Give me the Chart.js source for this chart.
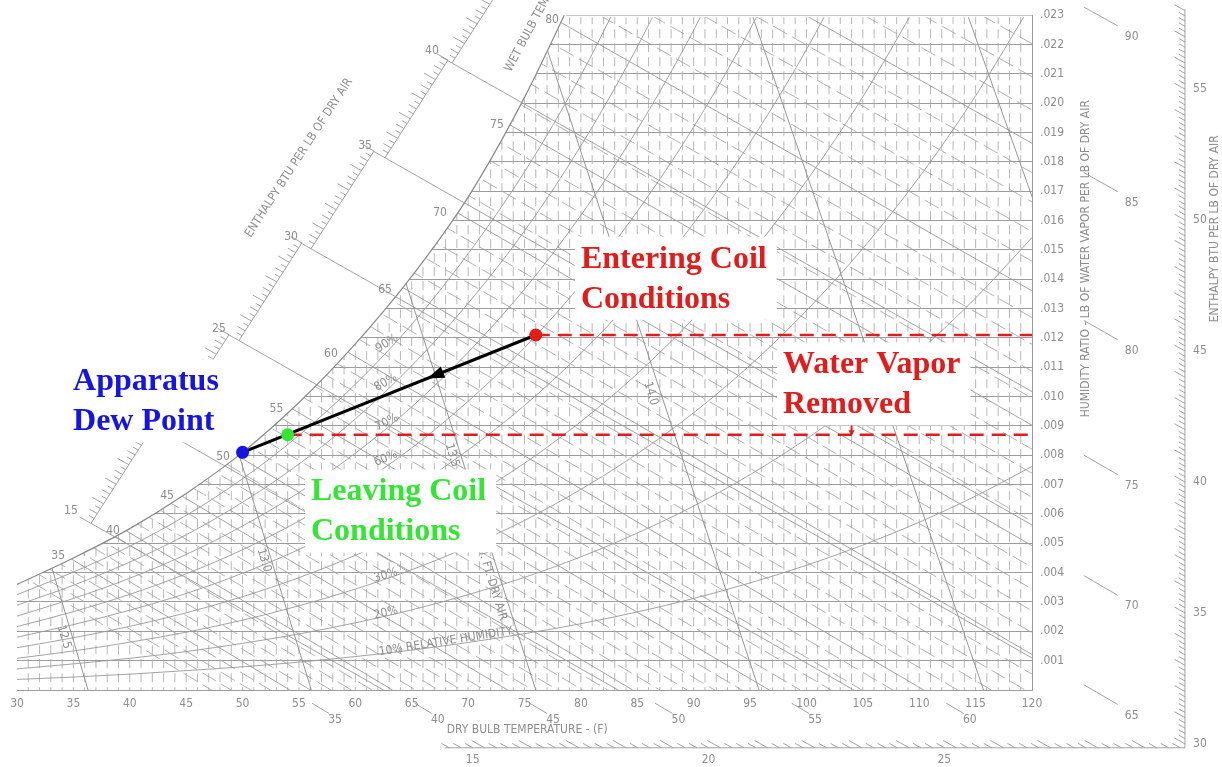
<!DOCTYPE html>
<html>
<head>
<meta charset="utf-8">
<script src="https://cdn.jsdelivr.net/npm/chart.js@4.4.1/dist/chart.umd.min.js"></script>
<style>
  html, body { margin: 0; padding: 0; background: #fff; }
</style>
</head>
<body>
<canvas id="chart" width="1222" height="767"></canvas>
<script>
const FONT = '"DejaVu Sans Condensed", "DejaVu Sans", sans-serif';
const GRAY = '#8e8e8e';
const LINE = '#989898';

// saturation curve (dry bulb F -> humidity ratio)
const satDB = [30, 35, 40, 45, 50, 55, 60, 65, 70, 75, 80];
const satW = [0.0036, 0.0045, 0.0055, 0.0067, 0.0081, 0.0098, 0.0118, 0.0141, 0.0168, 0.0202, 0.0242];
const satTopDB = 78.7; // where the saturation curve leaves the top of the chart

// relative humidity curves, read every 5 F
const rhDB = [30, 35, 40, 45, 50, 55, 60, 65, 70, 75, 80, 85, 90, 95, 100, 105, 110, 115, 120];
const rh10 = [0.00036, 0.00044, 0.00054, 0.00066, 0.00079, 0.00095, 0.00114, 0.00136, 0.00162, 0.00192, 0.00226, 0.00266, 0.00312, 0.00365, 0.00425, 0.00494, 0.00572, 0.00661, 0.00762];
const rh20 = [0.00072, 0.00089, 0.00108, 0.00131, 0.00159, 0.00191, 0.00229, 0.00273, 0.00325, 0.00384, 0.00454, 0.00535, 0.00627, 0.00734, 0.00856, 0.00995, 0.01155, 0.01336, 0.01542];
const rh30 = [0.00108, 0.00133, 0.00163, 0.00197, 0.00238, 0.00287, 0.00344, 0.0041, 0.00488, 0.00578, 0.00684, 0.00805, 0.00945, 0.01107, 0.01293, 0.01505, 0.01748, 0.02025, 0.02341];
const rh40 = [0.00144, 0.00178, 0.00217, 0.00263, 0.00318, 0.00383, 0.00459, 0.00548, 0.00652, 0.00773, 0.00915, 0.01078, 0.01267, 0.01484, 0.01735, 0.02022, 0.02351];
const rh50 = [0.0018, 0.00223, 0.00272, 0.00329, 0.00398, 0.00479, 0.00575, 0.00686, 0.00818, 0.0097, 0.01147, 0.01353, 0.01591, 0.01866, 0.02183, 0.02546];
const rh60 = [0.00216, 0.00267, 0.00326, 0.00396, 0.00478, 0.00576, 0.00691, 0.00825, 0.00984, 0.01167, 0.01382, 0.01631, 0.01919, 0.02252, 0.02636];
const rh70 = [0.00252, 0.00312, 0.00381, 0.00462, 0.00559, 0.00673, 0.00807, 0.00965, 0.01151, 0.01366, 0.01618, 0.0191, 0.02249, 0.02642];
const rh80 = [0.00289, 0.00357, 0.00436, 0.00529, 0.0064, 0.0077, 0.00924, 0.01105, 0.01318, 0.01565, 0.01855, 0.02192, 0.02583];
const rh90 = [0.00325, 0.00402, 0.0049, 0.00595, 0.0072, 0.00868, 0.01042, 0.01246, 0.01487, 0.01766, 0.02095, 0.02476];
const rhCurves = [rh10, rh20, rh30, rh40, rh50, rh60, rh70, rh80, rh90];
const rhLabels = ['90%', '80%', '70%', '60%', '30%', '20%', '10% RELATIVE HUMIDITY'];
const rhLabelDB = [62.8, 62.7, 62.8, 62.7, 62.7, 62.7, 62.1];
const rhLabelW = [0.01181, 0.01048, 0.00912, 0.00789, 0.00391, 0.00262, 0.00129];
const rhLabelRot = [-32, -29, -26, -23, -15, -12, -9];

// wet bulb lines: dry bulb where each meets W = 0 and W = .023
const wbTemps = [30, 35, 40, 45, 50, 55, 60, 65, 70, 75, 80, 85, 90];
const wbZeroDB = [45.5, 54.2, 63.3, 73.5, 84.6, 96.7, 110.4, 125.4, 142.1, 160.8, 182.1, 205.8, 232.9];
const wbTopDB = [-53.8, -45.6, -36.8, -27.0, -16.4, -4.8, 8.4, 22.8, 38.8, 56.8, 77.1, 99.9, 125.9];
const wbLabelTemps = [35, 40, 45, 50, 55, 60, 65, 70, 75, 80];
const wbLabelDB = [33.65, 38.52, 43.3, 48.27, 53.0, 57.84, 62.63, 67.51, 72.56, 77.44];
const wbLabelW = [0.00456, 0.00541, 0.00663, 0.00793, 0.00959, 0.01147, 0.01364, 0.01626, 0.01926, 0.02283];

// specific volume lines (cu ft per lb dry air)
const volLabels = ['12.5', '13.0', '13.5', '14.0', '14.5', '15.0'];
const volZeroDB = [36.3, 56.1, 76.0, 95.8, 115.7, 135.5];
const volTopDB = [18.6, 37.7, 56.9, 76.0, 95.2, 114.3];
const volLabelDB = [34.17, 51.9, 68.57, 86.2];
const volLabelW = [0.0018, 0.00442, 0.008, 0.0101];

// enthalpy scale (btu per lb dry air)
const hRuler = [15, 20, 25, 30, 35, 40];
const hRulerDB = [36.56, 43.21, 49.68, 56.07, 62.63, 68.57];
const hRulerW = [0.00568, 0.00878, 0.01191, 0.01504, 0.01814, 0.02137];
const hZeroDB = [62.5, 83.3, 104.2, 125.0, 145.8, 166.7];
const hRight = [30, 35, 40, 45, 50, 55];
const hBottom = [15, 20, 25];

// coil process: entering, leaving, apparatus dew point
const processDB = [76, 54, 50];
const processW = [0.0121, 0.0087, 0.0081];

const pts = (xs, ys) => ys.map((y, i) => ({ x: xs[i], y }));
const lineSet = (data, color, width, order, extra) => Object.assign({
  data, showLine: true, borderColor: color, borderWidth: width,
  pointRadius: 0, fill: false, order
}, extra || {});
const innerClip = { left: 0, top: -2, right: 0, bottom: 0 };

const datasets = [];
rhCurves.forEach((c) => {
  datasets.push(lineSet(pts(rhDB, c), LINE, 0.9, 20, { cubicInterpolationMode: 'monotone', clip: innerClip }));
});
wbTemps.forEach((t, i) => {
  if (t < 35) return;
  datasets.push(lineSet([{ x: wbTopDB[i], y: 0.023 }, { x: wbZeroDB[i], y: 0 }], LINE, 0.9, 20, { clip: innerClip }));
});
volLabels.forEach((v, i) => {
  datasets.push(lineSet([{ x: volTopDB[i], y: 0.023 }, { x: volZeroDB[i], y: 0 }], '#8a8a8a', 0.9, 20, { clip: innerClip }));
});
datasets.push(lineSet(pts(satDB, satW), '#8a8a8a', 1.2, 10, {
  cubicInterpolationMode: 'monotone', fill: 'end', backgroundColor: '#ffffff'
}));
datasets.push(lineSet([{ x: satTopDB, y: 0.023 }, { x: 120, y: 0.023 }], '#9a9a9a', 1.2, 9));
hRuler.forEach((h, i) => {
  datasets.push(lineSet([{ x: hRulerDB[i], y: hRulerW[i] }, { x: hZeroDB[i], y: 0 }], LINE, 0.9, 5));
});
[0, 1].forEach((i) => {
  datasets.push(lineSet([{ x: processDB[i], y: processW[i] }, { x: 120, y: processW[i] }], '#e31b1b', 2.6, 3, { borderDash: [14, 8] }));
});
datasets.push(lineSet([{ x: processDB[0], y: processW[0] }, { x: processDB[2], y: processW[2] }], '#000000', 3, 2));
const dotColors = ['#e31b1b', '#33e633', '#1414e6'];
processDB.forEach((d, i) => {
  datasets.push({
    data: [{ x: d, y: processW[i] }], pointRadius: 6.5, pointBackgroundColor: dotColors[i],
    pointBorderWidth: 0, order: 1
  });
});

function text(ctx, str, x, y, o) {
  o = o || {};
  ctx.save();
  ctx.translate(x, y);
  if (o.rot) ctx.rotate(o.rot * Math.PI / 180);
  ctx.font = o.font || `12px ${FONT}`;
  ctx.fillStyle = o.color || GRAY;
  ctx.textAlign = o.align || 'center';
  ctx.textBaseline = 'middle';
  ctx.fillText(str, 0, 0);
  ctx.restore();
}

function seg(ctx, x1, y1, x2, y2) {
  ctx.beginPath();
  ctx.moveTo(x1, y1);
  ctx.lineTo(x2, y2);
  ctx.stroke();
}

const psychro = {
  id: 'psychro',
  beforeDatasetsDraw(chart) {
    const { ctx, chartArea: a, scales: { x, y } } = chart;
    ctx.save();
    ctx.beginPath();
    ctx.rect(a.left, a.top + 2, a.right - a.left, a.bottom - a.top - 2);
    ctx.clip();
    // dry bulb lines every degree
    ctx.strokeStyle = '#a6a6a6';
    ctx.lineWidth = 0.8;
    ctx.setLineDash([9, 5]);
    for (let t = 31; t < 120; t++) {
      const px = x.getPixelForValue(t);
      seg(ctx, px, a.top, px, a.bottom);
    }
    // minor wet bulb hatching between the 5 degree lines
    ctx.strokeStyle = '#9e9e9e';
    ctx.setLineDash([16, 6]);
    for (let i = 0; i < wbTemps.length - 1; i++) {
      for (let k = 1; k < 5; k++) {
        const f = k / 5;
        const top = wbTopDB[i] + (wbTopDB[i + 1] - wbTopDB[i]) * f;
        const zero = wbZeroDB[i] + (wbZeroDB[i + 1] - wbZeroDB[i]) * f;
        seg(ctx, x.getPixelForValue(top), y.getPixelForValue(0.023), x.getPixelForValue(zero), y.getPixelForValue(0));
      }
    }
    ctx.restore();
  },
  afterDatasetsDraw(chart) {
    const { ctx, scales: { x, y } } = chart;
    const P = (db, w) => [x.getPixelForValue(db), y.getPixelForValue(w)];
    ctx.save();
    ctx.strokeStyle = LINE;
    ctx.lineWidth = 0.9;

    // enthalpy ruler along the saturation curve
    hRuler.forEach((h, i) => {
      const [sx, sy] = P(hRulerDB[i], hRulerW[i]);
      const [ex, ey] = P(hRulerDB[i] + 5.59, hRulerW[i] + 0.00333);
      const [zx, zy] = P(hZeroDB[i], 0);
      let dx = sx - zx, dy = sy - zy;
      const len = Math.hypot(dx, dy);
      dx /= len; dy /= len;
      seg(ctx, sx, sy, ex, ey);
      for (let k = 0; k <= 20; k++) {
        const tx = sx + (ex - sx) * k / 20, ty = sy + (ey - sy) * k / 20;
        const L = k % 4 === 0 ? 13 : (k % 2 === 0 ? 9 : 6);
        seg(ctx, tx, ty, tx + dx * L, ty + dy * L);
      }
      text(ctx, String(h), sx - 20, sy - 12);
    });
    let [tx, ty] = P(55.0, 0.01814);
    text(ctx, 'ENTHALPY BTU PER LB OF DRY AIR', tx, ty, { rot: -57 });
    [tx, ty] = P(73.54, 0.0211);
    text(ctx, 'WET BULB TEMPERATURE - F', tx, ty, { rot: -62, align: 'left' });

    // wet bulb labels and stubs past the chart edges
    wbLabelTemps.forEach((t, i) => {
      const [lx, ly] = P(wbLabelDB[i], wbLabelW[i]);
      text(ctx, String(t), lx, ly);
    });
    wbTemps.forEach((t, i) => {
      if (t < 35) return;
      const z = wbZeroDB[i], tp = wbTopDB[i];
      const dbAt = (w) => z + (tp - z) * (w / 0.023);
      const wAt = (db) => 0.023 * (z - db) / (z - tp);
      let a, b;
      if (z < 120) {
        a = P(dbAt(-0.00045), -0.00045);
        b = P(dbAt(-0.0008), -0.0008);
        seg(ctx, a[0], a[1], b[0], b[1]);
        text(ctx, String(t), b[0] + 6, b[1] + 6);
      } else {
        a = P(124.6, wAt(124.6));
        b = P(127.6, wAt(127.6));
        seg(ctx, a[0], a[1], b[0], b[1]);
        text(ctx, String(t), b[0] + 14, b[1] + 11);
      }
    });

    // relative humidity and volume labels
    rhLabels.forEach((s, i) => {
      const [lx, ly] = P(rhLabelDB[i], rhLabelW[i]);
      text(ctx, s, lx, ly, { rot: rhLabelRot[i], align: i === rhLabels.length - 1 ? 'left' : 'center' });
    });
    volLabelDB.forEach((d, i) => {
      const [lx, ly] = P(d, volLabelW[i]);
      text(ctx, volLabels[i], lx, ly, { rot: 73 });
    });
    [tx, ty] = P(72.03, 0.00374);
    text(ctx, 'CU. FT. DRY AIR', tx, ty, { rot: 73 });

    // outer enthalpy frame
    const frameDB = 133.56, frameW = -0.00197, frameTopW = 0.0232, frameLeftDB = 67.95;
    const [fx, fy] = P(frameDB, frameW);
    const [flx] = P(frameLeftDB, 0);
    const [, fty] = P(0, frameTopW);
    seg(ctx, flx, fy, fx, fy);
    seg(ctx, fx, fy, fx, fty);
    const tdx = -0.873, tdy = -0.488;
    for (let q = 0; q <= 180; q++) {
      const h = 14 + q * 0.25;
      const db = (h - frameW * 1061) / (0.24 + 0.444 * frameW);
      if (db < frameLeftDB || db > frameDB) continue;
      const [bx, by] = P(db, frameW);
      const L = Number.isInteger(h) ? 15 : 9;
      seg(ctx, bx, by, bx + tdx * L, by + tdy * L);
    }
    for (let q = 0; q <= 150; q++) {
      const h = 29 + q * 0.2;
      const w = (h - 0.24 * frameDB) / (1061 + 0.444 * frameDB);
      if (w < frameW || w > frameTopW) continue;
      const [rx, ry] = P(frameDB, w);
      const L = Math.abs(h - Math.round(h)) < 0.01 ? 12 : 7;
      seg(ctx, rx, ry, rx + tdx * L, ry + tdy * L);
    }
    hBottom.forEach((h) => {
      const db = (h - frameW * 1061) / (0.24 + 0.444 * frameW);
      const [bx, by] = P(db, frameW);
      text(ctx, String(h), bx - 12, by + 12);
    });
    hRight.forEach((h) => {
      const w = (h - 0.24 * frameDB) / (1061 + 0.444 * frameDB);
      const [rx, ry] = P(frameDB, w);
      text(ctx, String(h), rx + 15, ry);
    });

    // axis titles
    [tx, ty] = P(68.1, -0.00136);
    text(ctx, 'DRY BULB TEMPERATURE - (F)', tx, ty, { align: 'left' });
    [tx, ty] = P(124.79, 0.0147);
    text(ctx, 'HUMIDITY RATIO - LB OF WATER VAPOR PER LB OF DRY AIR', tx, ty, { rot: -90 });
    [tx, ty] = P(136.25, 0.01572);
    text(ctx, 'ENTHALPY BTU PER LB OF DRY AIR', tx, ty, { rot: -90 });

    // process arrowhead
    const [ex, ey] = P(processDB[0], processW[0]);
    const [ax, ay] = P(processDB[2], processW[2]);
    let ux = ax - ex, uy = ay - ey;
    const ul = Math.hypot(ux, uy);
    ux /= ul; uy /= ul;
    const hx = ex + (ax - ex) * 0.37, hy = ey + (ay - ey) * 0.37;
    ctx.fillStyle = '#000';
    ctx.beginPath();
    ctx.moveTo(hx, hy);
    ctx.lineTo(hx - ux * 17 - uy * 6, hy - uy * 17 + ux * 6);
    ctx.lineTo(hx - ux * 17 + uy * 6, hy - uy * 17 - ux * 6);
    ctx.closePath();
    ctx.fill();

    // small marker for water removed
    const [mx, my1] = P(104, 0.00918);
    const [, my2] = P(104, 0.00872);
    ctx.strokeStyle = '#e31b1b';
    ctx.lineWidth = 2;
    seg(ctx, mx, my1, mx, my2);
    ctx.fillStyle = '#e31b1b';
    ctx.beginPath();
    ctx.moveTo(mx, my2 + 2);
    ctx.lineTo(mx - 3, my2 - 4);
    ctx.lineTo(mx + 3, my2 - 4);
    ctx.closePath();
    ctx.fill();

    // annotation blocks
    const notes = [
      { lines: ['Entering Coil', 'Conditions'], color: '#e31b1b', db: 80.0, w: 0.01439 },
      { lines: ['Water Vapor', 'Removed'], color: '#e31b1b', db: 97.92, w: 0.01079 },
      { lines: ['Apparatus', 'Dew Point'], color: '#1414e6', db: 34.97, w: 0.01021 },
      { lines: ['Leaving Coil', 'Conditions'], color: '#33e633', db: 56.07, w: 0.00646 }
    ];
    ctx.font = 'bold 32px "Liberation Serif", "Times New Roman", serif';
    notes.forEach((n) => {
      const [nx, ny] = P(n.db, n.w);
      const wmax = Math.max(...n.lines.map((s) => ctx.measureText(s).width));
      ctx.fillStyle = '#ffffff';
      ctx.fillRect(nx - 6, ny - 31, wmax + 16, 40 * (n.lines.length - 1) + 43);
      ctx.fillStyle = n.color;
      ctx.textAlign = 'left';
      ctx.textBaseline = 'alphabetic';
      n.lines.forEach((s, k) => ctx.fillText(s, nx, ny + k * 40));
    });
    ctx.restore();
  }
};

new Chart(document.getElementById('chart').getContext('2d'), {
  type: 'scatter',
  data: { datasets },
  options: {
    responsive: false,
    animation: false,
    devicePixelRatio: 1,
    layout: { padding: { left: 17, top: 14, right: 0, bottom: 0 } },
    plugins: {
      legend: { display: false },
      tooltip: { enabled: false },
      filler: { drawTime: 'beforeDatasetDraw' }
    },
    scales: {
      x: {
        type: 'linear', min: 30, max: 120,
        afterFit: (s) => { s.height = 77; },
        grid: { display: false, drawTicks: false },
        border: { display: false },
        ticks: {
          stepSize: 1, autoSkip: false, maxRotation: 0, padding: 7,
          color: GRAY, font: { family: FONT, size: 12 },
          callback: (v) => (v % 5 === 0 ? String(v) : '')
        }
      },
      y: {
        type: 'linear', position: 'right', min: 0, max: 0.023,
        afterFit: (s) => { s.width = 190; },
        grid: {
          drawTicks: false, lineWidth: 1,
          color: (c) => (c.tick && c.tick.value >= 0.0229 ? 'rgba(0,0,0,0)' : '#9c9c9c')
        },
        border: { display: true, color: '#9a9a9a', width: 1 },
        ticks: {
          stepSize: 0.001, padding: 8, color: GRAY, font: { family: FONT, size: 12 },
          callback: (v) => {
            const n = Math.round(v * 1000);
            return n === 0 ? '' : '.' + String(n).padStart(3, '0');
          }
        }
      }
    }
  },
  plugins: [psychro]
});
</script>
</body>
</html>
